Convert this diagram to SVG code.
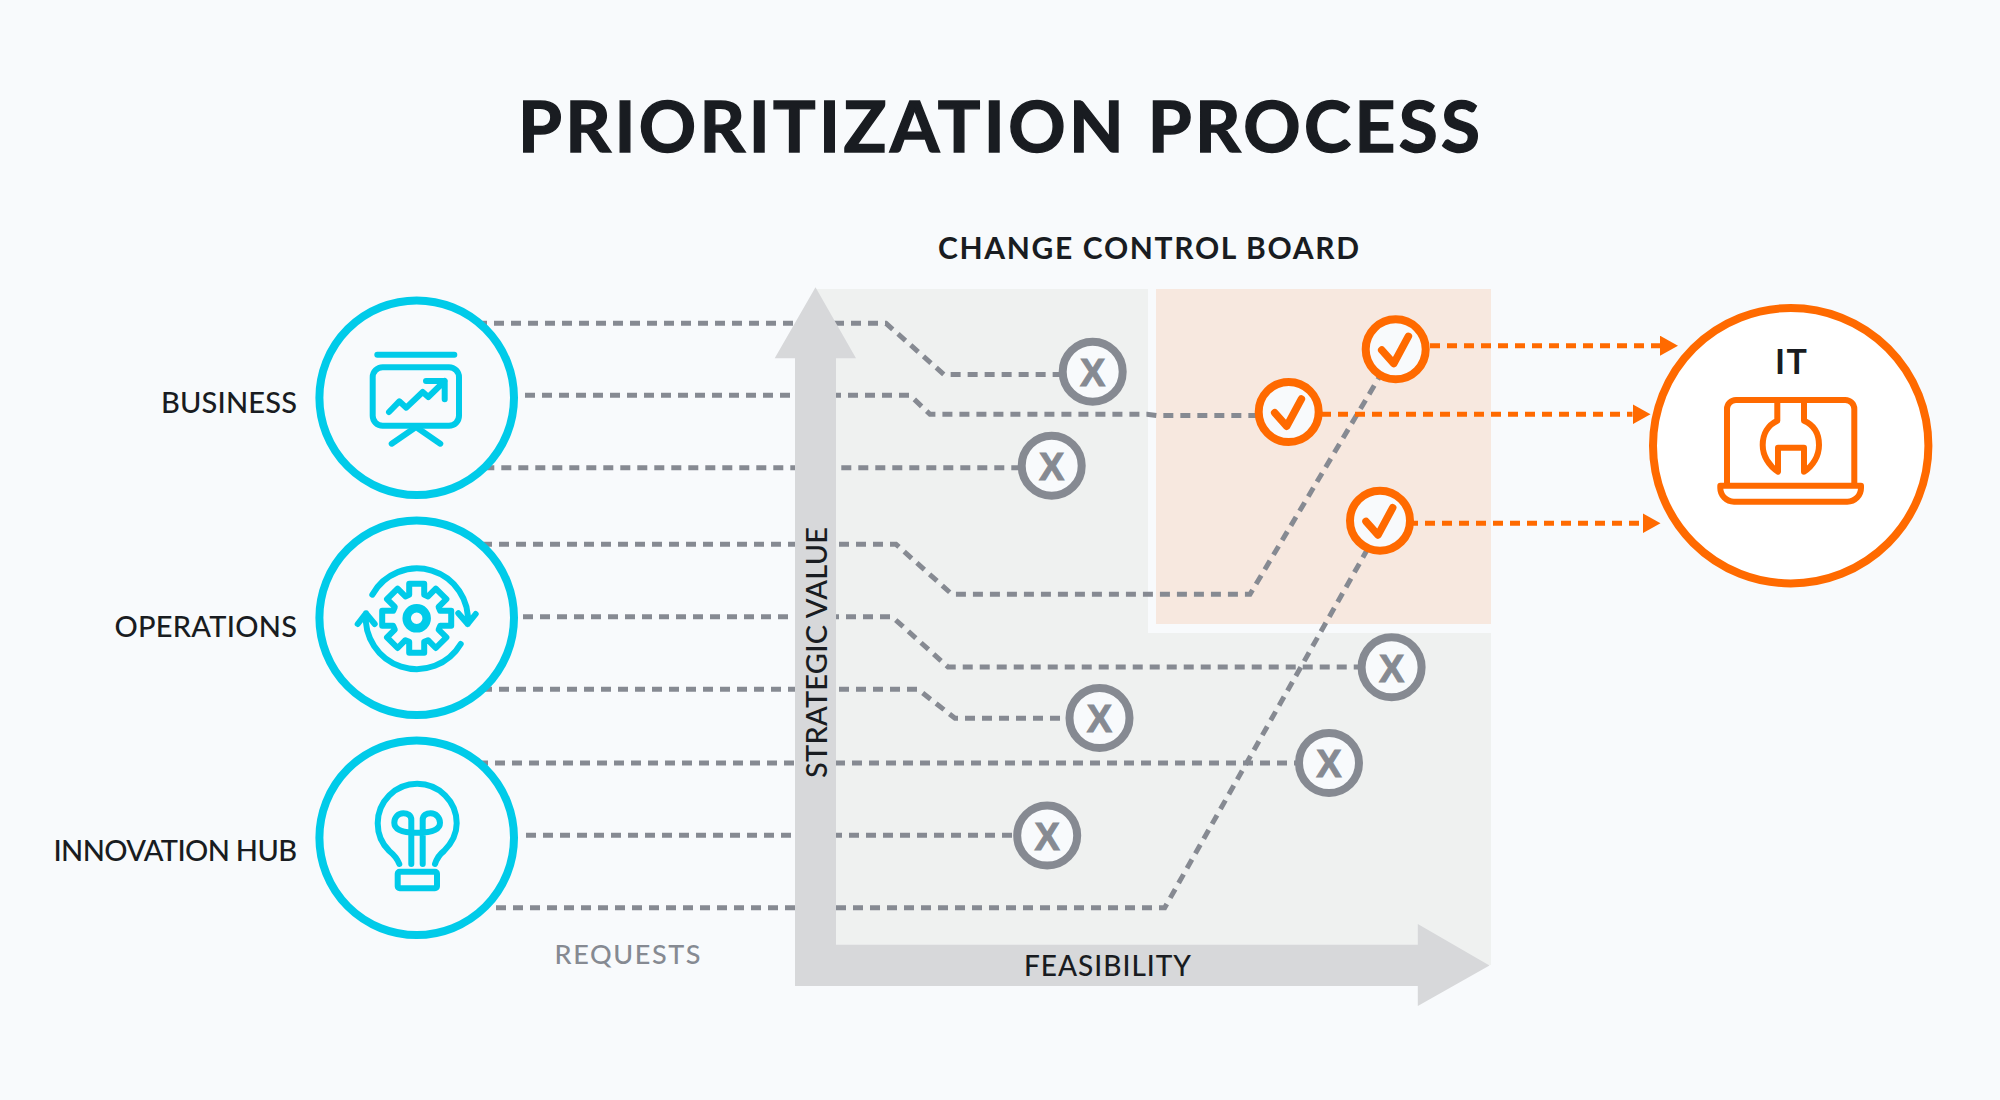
<svg xmlns="http://www.w3.org/2000/svg" xmlns:xlink="http://www.w3.org/1999/xlink" width="2000" height="1100" viewBox="0 0 2000 1100">
<style>
text{font-family:"Lato","Liberation Sans",sans-serif;fill:#191c21}
.title{font-size:71px;font-weight:700;stroke:#191c21;stroke-width:1.4}
.board{font-size:30px;font-weight:700}
.lab{font-size:29px;font-weight:500}
.axis{font-size:28px;font-weight:500}
.req{font-size:27px;font-weight:500;fill:#868a92}
.it{font-size:34px;font-weight:700}
.xt{font-family:"Liberation Sans",Arial,sans-serif;font-size:38px;font-weight:700;fill:#868a92;stroke:#868a92;stroke-width:1;text-anchor:middle}
.req-line{fill:none;stroke:#868a92;stroke-width:5;stroke-dasharray:10 7}
.go-line{fill:none;stroke:#ff6a00;stroke-width:5;stroke-dasharray:10 7}
.ring{fill:#f8fafc;stroke:#00cbe9;stroke-width:8}
.ico{fill:none;stroke:#00cbe9;stroke-width:6;stroke-linecap:round;stroke-linejoin:round}
.ito{fill:none;stroke:#ff6a00;stroke-width:6;stroke-linecap:round;stroke-linejoin:round}
.rej{fill:#f8fafc;stroke:#868a92;stroke-width:8}
.ok{fill:#f8fafc;stroke:#ff6a00;stroke-width:8}
.tick{fill:none;stroke:#ff6a00;stroke-width:7.5;stroke-linecap:round;stroke-linejoin:round}
</style>
<defs>
<marker id="head" markerUnits="userSpaceOnUse" markerWidth="18" markerHeight="20" viewBox="0 0 18 20" refX="0" refY="10" orient="auto"><path d="M0 0L18 10L0 20Z" fill="#ff6a00"/></marker>
<path id="tickmark" d="M-14 .7L-2 14.3L12.7-13"/>
</defs>
<rect width="2000" height="1100" fill="#f8fafc"/>
<text class="title" x="518" y="152" textLength="962" lengthAdjust="spacing">PRIORITIZATION PROCESS</text>
<g id="panels">
<rect x="815" y="289" width="333" height="336" fill="#eff1f0"/>
<rect x="815" y="633" width="676" height="332" fill="#eff1f0"/>
<rect x="815" y="625" width="333" height="8" fill="#eff1f0"/>
<rect x="1156" y="289" width="335" height="335" fill="#f7e8df"/>
</g>
<text class="board" x="938" y="259" textLength="421" lengthAdjust="spacing">CHANGE CONTROL BOARD</text>
<g id="connectors">
<path class="req-line" d="M477 323.3H886L944 374.5H1065"/>
<path class="req-line" d="M525 395.3H910L930 414.3H1147L1157 415.5H1270"/>
<path class="req-line" d="M484.3 467.7H1025"/>
<path class="req-line" d="M482 544.3H896L952 594.3H1250L1389.5 360"/>
<path class="req-line" d="M523 616.7H892L948 667H1365"/>
<path class="req-line" d="M482 689.3H918L955 718.3H1075"/>
<path class="req-line" d="M478 763H1300"/>
<path class="req-line" d="M526 835.3H1020"/>
<path class="req-line" d="M496 907.7H1164.7L1375 536"/>
<path class="go-line" d="M1430 345.7H1660" marker-end="url(#head)"/>
<path class="go-line" d="M1321 414.3H1632.5" marker-end="url(#head)"/>
<path class="go-line" d="M1408 523.3H1642.5" marker-end="url(#head)"/>
</g>
<g id="axes">
<path d="M795 986V358.3H774.7L815.5 287.3L856 358.3H836V944.7H1417.8V924L1489.5 965.5L1417.8 1006V986Z" fill="#d7d8da"/>
<text class="axis" x="1024" y="976" textLength="167" lengthAdjust="spacing">FEASIBILITY</text>
<text class="lab" transform="translate(826.5 778) rotate(-90)" textLength="251" lengthAdjust="spacing">STRATEGIC VALUE</text>
</g>
<text class="req" x="554.5" y="963.5" textLength="146" lengthAdjust="spacing">REQUESTS</text>
<g id="business">
<circle class="ring" cx="416.7" cy="397.7" r="97.3"/>
<path class="ico" d="M377.3 354.7H454.3"/>
<rect class="ico" x="372.7" y="367.3" width="86.3" height="58.4" rx="10"/>
<path class="ico" d="M391.7 443.7L416 427L440.3 443.7"/>
<path class="ico" d="M389 412L399.3 401.3L406.3 407.7L422.7 392L428.3 397L444.7 381M426 381H444.7V399.3"/>
<text class="lab" x="161" y="412.7" textLength="136" lengthAdjust="spacing">BUSINESS</text>
</g>
<g id="operations">
<circle class="ring" cx="416.7" cy="617.7" r="97.3"/>
<path class="ico" transform="translate(416.7 618.3)" d="M23.5-7.5H34.5V7.5H23.5L21.92 11.31L29.7 19.09L19.09 29.7L11.31 21.92L7.5 23.5V34.5H-7.5V23.5L-11.31 21.92L-19.09 29.7L-29.7 19.09L-21.92 11.31L-23.5 7.5H-34.5V-7.5H-23.5L-21.92-11.31L-29.7-19.09L-19.09-29.7L-11.31-21.92L-7.5-23.5V-34.5H7.5V-23.5L11.31-21.92L19.09-29.7L29.7-19.09L21.92-11.31Z"/>
<circle class="ico" style="stroke-width:8.5" cx="416.7" cy="618.3" r="10"/>
<path class="ico" d="M372.3 594.7A51 51 0 0 1 467.7 624M458.3 613.3L467.7 624L475.7 614M460.7 644A51 51 0 0 1 366 613.3M357.7 624L366 613.3L374.7 624"/>
<text class="lab" x="114.5" y="636.7" textLength="182.5" lengthAdjust="spacing">OPERATIONS</text>
</g>
<g id="innovation-hub">
<circle class="ring" cx="416.7" cy="837.7" r="97.3"/>
<path class="ico" d="M399.3 864C397 858 393 854 389.3 851C382 844 377.7 834 377.7 823.3A39.5 39.5 0 0 1 456.7 823.3C456.7 834 451 844 444 851C440 854 437 858 435 864"/>
<path class="ico" d="M411.3 864V820C411.3 815 407.5 813.3 403.3 813.3C398 813.3 394.3 817.5 394.3 822.7C394.3 830 403.3 832.7 417 832.7C430.7 832.7 440 830 440 822.7C440 817.5 436 813.3 430.7 813.3C426.5 813.3 422.7 815 422.7 820V864"/>
<rect class="ico" x="397.7" y="871.7" width="39.3" height="16.6" rx="2"/>
<text class="lab" x="53.5" y="860.7" textLength="243.5" lengthAdjust="spacing">INNOVATION HUB</text>
</g>
<g id="it">
<circle cx="1790.7" cy="445.7" r="137.7" fill="#fff" stroke="#ff6a00" stroke-width="8"/>
<text class="it" x="1775" y="374" textLength="32" lengthAdjust="spacing">IT</text>
<path class="ito" d="M1727 485V409A9 9 0 0 1 1736 400H1845.3A9 9 0 0 1 1854.3 409V485"/>
<path class="ito" d="M1720.3 485.7H1861V488A13.7 13.7 0 0 1 1847.3 501.7H1734A13.7 13.7 0 0 1 1720.3 488Z"/>
<path class="ito" d="M1777.3 400V420.7C1768 425 1762.7 434 1762.7 445C1762.7 456 1769 466 1778 471.7V447.7H1804V471.7C1813 466 1819 456 1819 445C1819 434 1814 425 1804 420.7V400"/>
</g>
<g id="reject-1"><circle class="rej" cx="1092.7" cy="371.7" r="30"/><text class="xt" x="1092.7" y="386">X</text></g>
<g id="reject-2"><circle class="rej" cx="1051.7" cy="465.7" r="30"/><text class="xt" x="1051.7" y="480">X</text></g>
<g id="reject-3"><circle class="rej" cx="1391.6" cy="667.3" r="30"/><text class="xt" x="1391.6" y="681.6">X</text></g>
<g id="reject-4"><circle class="rej" cx="1099.5" cy="718" r="30"/><text class="xt" x="1099.5" y="732.3">X</text></g>
<g id="reject-5"><circle class="rej" cx="1329" cy="763" r="30"/><text class="xt" x="1329" y="777.3">X</text></g>
<g id="reject-6"><circle class="rej" cx="1047.2" cy="835.5" r="30"/><text class="xt" x="1047.2" y="849.8">X</text></g>
<g id="approve-1"><circle class="ok" cx="1395.7" cy="349.3" r="30"/><use href="#tickmark" class="tick" x="1395.7" y="349.3"/></g>
<g id="approve-2"><circle class="ok" cx="1288.7" cy="412" r="30"/><use href="#tickmark" class="tick" x="1288.7" y="412"/></g>
<g id="approve-3"><circle class="ok" cx="1380" cy="520.7" r="30"/><use href="#tickmark" class="tick" x="1380" y="520.7"/></g>
</svg>
